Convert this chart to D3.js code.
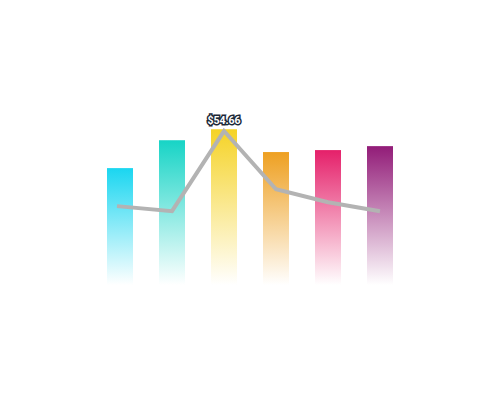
<!DOCTYPE html><html><head><meta charset="utf-8"><script src="https://cdn.jsdelivr.net/npm/d3@7"></script>
<style>body{margin:0;background:#fff}</style></head><body><svg id="c" width="500" height="401"></svg><script>
const categories=["A","B","C","D","E","F"];
const barValues=[41.5,51.4,55.3,47.2,47.9,49.3];
const lineValues=[28.0,26.2,54.66,34.0,29.4,26.2];
const colors=["#1ad6f0","#17d4c6","#f5d327","#eea021","#e5206a","#921c78"];
const svg=d3.select("#c");
const x=d3.scaleBand().domain(categories).range([81,419]).padding(0.5);
const y=d3.scaleLinear().domain([0,60]).range([285,116]);
const defs=svg.append("defs");
colors.forEach((c,i)=>{const g=defs.append("linearGradient").attr("id","g"+i).attr("x1",0).attr("y1",0).attr("x2",0).attr("y2",1);
g.append("stop").attr("offset","0%").attr("stop-color",c).attr("stop-opacity",1);
g.append("stop").attr("offset","100%").attr("stop-color",c).attr("stop-opacity",0);});
svg.selectAll("rect.bar").data(barValues).join("rect").attr("class","bar")
.attr("x",(d,i)=>x(categories[i])).attr("width",x.bandwidth())
.attr("y",d=>y(d)).attr("height",d=>y(0)-y(d)).attr("fill",(d,i)=>`url(#g${i})`);
const line=d3.line().x((d,i)=>x(categories[i])+x.bandwidth()/2-(i==0?3:0)).y(d=>y(d));
svg.append("path").datum(lineValues).attr("d",line).attr("fill","none").attr("stroke","#b3b3b3").attr("stroke-width",4).attr("stroke-linejoin","miter");
const mi=d3.maxIndex(lineValues);
svg.append("text").attr("x",x(categories[mi])+x.bandwidth()/2).attr("y",y(lineValues[mi])-7)
.attr("text-anchor","middle").attr("font-family","Roboto, sans-serif").attr("font-size",10.5).attr("font-weight","bold")
.attr("fill","#fff").attr("stroke","#1b2838").attr("stroke-width",3).attr("paint-order","stroke")
.text("$"+lineValues[mi].toFixed(2));
</script></body></html>
